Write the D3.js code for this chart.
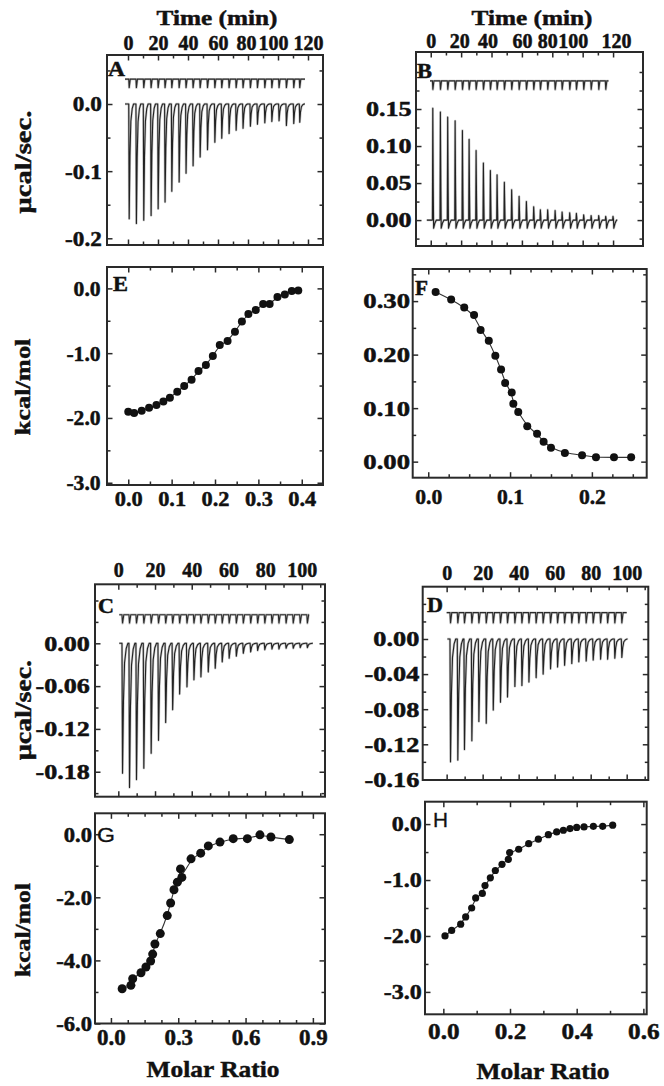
<!DOCTYPE html>
<html><head><meta charset="utf-8">
<script src="https://cdn.jsdelivr.net/npm/d3@7"></script>
<style>
body{margin:0;background:#fff;}
svg{display:block;}
</style></head><body>
<svg id="chart" width="664" height="1086"></svg>
<script>
// ================= DATA =================
// Raw ITC thermograms: injection times (min) and peak heights (µcal/sec)
const aTimes = [0.5,5.3,10.2,15.1,19.8,24.4,28.9,33.8,38.4,43.1,47.8,52.7,57.6,62.2,67.1,71.8,76.4,81.3,86.0,90.9,95.6,100.4,105.3,110.2,114.2];
const aPeaks = [-0.171,-0.178,-0.173,-0.166,-0.156,-0.146,-0.130,-0.116,-0.103,-0.092,-0.079,-0.068,-0.057,-0.051,-0.044,-0.039,-0.036,-0.033,-0.030,-0.028,-0.026,-0.025,-0.032,-0.029,-0.027];
const aRef = {level: 0.037, dip: -0.013, start: -2, end: 118};

const bTimes = [1.1,6.1,10.9,15.8,20.6,25.0,29.6,34.4,39.0,43.4,48.2,53.0,57.9,62.7,67.5,71.9,76.7,81.6,86.2,91.2,95.6,100.4,105.3,110.3,114.9,119.7];
const bPeaks = [0.151,0.146,0.139,0.134,0.121,0.109,0.094,0.077,0.067,0.061,0.051,0.041,0.032,0.025,0.018,0.014,0.014,0.013,0.011,0.010,0.009,0.007,0.006,0.006,0.005,0.005];
const bRef = {level: 0.188, dip: -0.012, start: -0.5, end: 117};

const cTimes = [2.0,5.8,9.6,13.6,17.6,21.6,25.5,29.3,33.1,37.1,40.9,44.7,48.7,52.5,56.3,60.1,64.0,67.8,71.8,75.6,79.5,83.4,87.2,91.1,95.0,98.8,102.7];
const cPeaks = [-0.182,-0.202,-0.191,-0.175,-0.154,-0.136,-0.111,-0.093,-0.071,-0.061,-0.051,-0.047,-0.040,-0.035,-0.026,-0.021,-0.018,-0.014,-0.012,-0.010,-0.009,-0.008,-0.008,-0.007,-0.007,-0.006,-0.006];
const cRef = {level: 0.040, dip: -0.012, start: 0.5, end: 104};

const dTimes = [1.85,5.9,9.6,13.7,17.6,21.7,25.6,29.6,33.5,37.6,41.5,45.4,49.4,53.3,57.4,61.3,65.2,69.2,73.1,77.2,81.1,85.2,89.1,93.1,97.0];
const dPeaks = [-0.140,-0.138,-0.126,-0.116,-0.094,-0.096,-0.081,-0.072,-0.066,-0.054,-0.053,-0.049,-0.044,-0.040,-0.034,-0.032,-0.030,-0.028,-0.026,-0.025,-0.024,-0.023,-0.023,-0.022,-0.021];
const dRef = {level: 0.030, dip: -0.012, start: 0, end: 100};

// Integrated heats (kcal/mol) vs molar ratio
const eX = [0.0,0.0135,0.031,0.048,0.065,0.081,0.096,0.113,0.129,0.146,0.162,0.179,0.195,0.211,0.229,0.246,0.262,0.277,0.294,0.311,0.326,0.344,0.361,0.377,0.392];
const eY = [-1.904,-1.925,-1.889,-1.842,-1.801,-1.745,-1.688,-1.595,-1.508,-1.41,-1.276,-1.184,-1.045,-0.875,-0.813,-0.67,-0.51,-0.397,-0.335,-0.242,-0.242,-0.134,-0.093,-0.042,-0.031];

const fX = [0.009,0.028,0.044,0.056,0.064,0.074,0.082,0.089,0.094,0.102,0.104,0.110,0.121,0.133,0.141,0.150,0.167,0.188,0.205,0.227,0.248];
const fY = [0.317,0.303,0.288,0.274,0.246,0.226,0.198,0.172,0.147,0.129,0.108,0.093,0.066,0.052,0.037,0.026,0.016,0.012,0.008,0.008,0.008];

const gX = [0.050,0.089,0.097,0.134,0.156,0.177,0.186,0.196,0.220,0.251,0.266,0.281,0.296,0.310,0.316,0.357,0.400,0.434,0.486,0.545,0.608,0.664,0.713,0.795];
const gY = [-4.90,-4.79,-4.58,-4.39,-4.21,-4.02,-3.80,-3.48,-3.15,-2.58,-2.18,-1.76,-1.52,-1.10,-1.37,-0.78,-0.60,-0.37,-0.25,-0.14,-0.14,-0.02,-0.09,-0.17];

const hX = [0.005,0.025,0.052,0.067,0.085,0.097,0.117,0.125,0.141,0.156,0.176,0.195,0.199,0.226,0.256,0.285,0.315,0.340,0.360,0.380,0.400,0.422,0.450,0.478,0.508];
const hY = [-2.00,-1.90,-1.79,-1.66,-1.50,-1.32,-1.24,-1.10,-0.96,-0.83,-0.72,-0.63,-0.51,-0.45,-0.35,-0.27,-0.19,-0.14,-0.11,-0.08,-0.06,-0.05,-0.04,-0.04,-0.02];

// Tick values
const time120Major = [0,20,40,60,80,100,120];
const time120Minor = [10,30,50,70,90,110];
const time100Major = [0,20,40,60,80,100];
const time100Minor = [10,30,50,70,90,110];
const aYMajor = [-0.2,-0.1,0.0], aYMinor = [-0.15,-0.05,0.05];
const bYMajor = [0,0.05,0.10,0.15], bYMinor = [-0.025,0.025,0.075,0.125,0.175,0.2];
const cYMajor = [-0.18,-0.12,-0.06,0], cYMinor = [-0.21,-0.15,-0.09,-0.03,0.03,0.06];
const dYMajor = [-0.16,-0.12,-0.08,-0.04,0], dYMinor = [-0.14,-0.10,-0.06,-0.02,0.02,0.04];
const eXMajor = [0,0.1,0.2,0.3,0.4], eXMinor = [0.05,0.15,0.25,0.35];
const eYMajor = [-3,-2,-1,0], eYMinor = [-2.5,-1.5,-0.5];
const fXMajor = [0,0.1,0.2], fXMinor = [0.025,0.05,0.075,0.125,0.15,0.175,0.225,0.25];
const fYMajor = [0,0.1,0.2,0.3], fYMinor = [0.05,0.15,0.25,0.35];
const gXMajor = [0,0.3,0.6,0.9], gXMinor = [0.075,0.15,0.225,0.375,0.45,0.525,0.675,0.75,0.825];
const gYMajor = [-6,-4,-2,0], gYMinor = [-5,-3,-1];
const hXMajor = [0,0.2,0.4,0.6], hXMinor = [0.1,0.3,0.5];
const hYMajor = [-3,-2,-1,0], hYMinor = [-2.5,-1.5,-0.5];

// ================= DRAWING =================
const svg = d3.select("#chart");
const FONT = "'Liberation Serif','Times New Roman',Times,serif";
const SANS = "'Liberation Sans',Arial,sans-serif";
const INK = "#2a2a2a";

function fmt(n){ return d => d.toFixed(n); }

// fit a text's horizontal scale so that a given label reaches a target width
function calib(sel, refStr, targetW){
  let w = 0;
  sel.each(function(){ if (this.textContent === refStr) w = this.getComputedTextLength(); });
  if (!w) return 1;
  return targetW / w;
}

function styleAxis(a, fs, cal, nudge){
  a.select(".domain").remove();
  a.attr("font-family", FONT).attr("font-size", fs).attr("font-weight", "bold");
  a.selectAll(".tick line").attr("stroke", INK).attr("stroke-width", 1.5);
  const txt = a.selectAll(".tick text").attr("fill", "#111")
    .attr("stroke", "#111").attr("stroke-width", 0.5);
  if (cal) {
    const sx = calib(txt, cal[0], cal[1]);
    txt.attr("transform", `scale(${sx},1)`);
    if (nudge) txt.attr("x", function(d){ return nudge[d] !== undefined ? nudge[d] / sx : null; });
  }
}

function label(x, y, str, o){
  o = o || {};
  const t = svg.append("text")
    .attr("text-anchor", o.anchor || "middle")
    .attr("font-family", o.family || FONT)
    .attr("font-weight", o.weight || "bold")
    .attr("font-size", o.fs || 21)
    .attr("fill", "#111").attr("stroke", "#111").attr("stroke-width", o.sw === undefined ? 0.45 : o.sw)
    .text(str);
  let sx = 1;
  if (o.w) sx = o.w / t.node().getComputedTextLength();
  t.attr("transform", `translate(${x},${y}) rotate(${o.rot||0}) scale(${sx},1)`);
}

function panel(c){
  const [x0,y0,x1,y1] = c.box;
  const x = d3.scaleLinear().domain(c.xd).range([x0,x1]);
  const y = d3.scaleLinear().domain(c.yd).range([y1,y0]);
  const g = svg.append("g");
  const MAJ = 5.5, MIN = 3.5;
  // y axes
  const al = g.append("g").attr("transform", `translate(${x0},0)`)
    .call(d3.axisLeft(y).tickValues(c.yMajor).tickSizeInner(-MAJ).tickSizeOuter(0).tickPadding(c.yPad).tickFormat(c.yFmt));
  styleAxis(al, 21.5, c.yCal);
  const alm = g.append("g").attr("transform", `translate(${x0},0)`)
    .call(d3.axisLeft(y).tickValues(c.yMinor).tickSizeInner(-MIN).tickSizeOuter(0).tickFormat(""));
  styleAxis(alm, 21);
  const ar = g.append("g").attr("transform", `translate(${x1},0)`)
    .call(d3.axisRight(y).tickValues(c.yMajor).tickSizeInner(-MAJ).tickSizeOuter(0).tickFormat(""));
  styleAxis(ar, 21);
  const arm = g.append("g").attr("transform", `translate(${x1},0)`)
    .call(d3.axisRight(y).tickValues(c.yMinor).tickSizeInner(-MIN).tickSizeOuter(0).tickFormat(""));
  styleAxis(arm, 21);
  // x axes
  const topFmt = c.xOnTop ? c.xFmt : "";
  const botFmt = c.xOnTop ? "" : c.xFmt;
  const at = g.append("g").attr("transform", `translate(0,${y0})`)
    .call(d3.axisTop(x).tickValues(c.xMajor).tickSizeInner(-MAJ).tickSizeOuter(0).tickPadding(c.xPad).tickFormat(topFmt));
  styleAxis(at, c.xFs, c.xOnTop ? c.xCal : null, c.nudge);
  const atm = g.append("g").attr("transform", `translate(0,${y0})`)
    .call(d3.axisTop(x).tickValues(c.xMinor).tickSizeInner(-MIN).tickSizeOuter(0).tickFormat(""));
  styleAxis(atm, 21);
  const ab = g.append("g").attr("transform", `translate(0,${y1})`)
    .call(d3.axisBottom(x).tickValues(c.xMajor).tickSizeInner(-MAJ).tickSizeOuter(0).tickPadding(c.xPad).tickFormat(botFmt));
  styleAxis(ab, c.xFs, c.xOnTop ? null : c.xCal, c.nudge);
  const abm = g.append("g").attr("transform", `translate(0,${y1})`)
    .call(d3.axisBottom(x).tickValues(c.xMinor).tickSizeInner(-MIN).tickSizeOuter(0).tickFormat(""));
  styleAxis(abm, 21);
  // frame
  g.append("rect").attr("x", x0).attr("y", y0).attr("width", x1-x0).attr("height", y1-y0)
    .attr("fill", "none").attr("stroke", INK).attr("stroke-width", 2);
  return {g, x, y};
}

// --- raw thermogram helpers ---
function spikeTrace(times, peaks, tStart, tEnd, under){
  const pts = [[tStart, 0]];
  times.forEach((t, i) => {
    const h = peaks[i];
    if (under) {
      pts.push([t,0],[t+0.25,h],[t+0.55,h*0.3],[t+0.8,under],[t+1.6,under*0.4],[t+2.6,0]);
    } else {
      pts.push([t,0],[t+0.3,h],[t+0.8,h*0.45],[t+1.4,h*0.15],[t+2.3,h*0.04],[t+3.2,0]);
    }
  });
  pts.push([tEnd, 0]);
  return pts;
}
function refTrace(times, ref){
  const pts = [[ref.start, ref.level]];
  times.forEach(t => {
    if (t + 1 < ref.end) pts.push([t, ref.level],[t+0.3, ref.level+ref.dip],[t+1.0, ref.level]);
  });
  pts.push([ref.end, ref.level]);
  return pts;
}
function drawRaw(p, times, peaks, ref, lowStart, lowEnd, under){
  const line = d3.line().x(d => p.x(d[0])).y(d => p.y(d[1]));
  const refPts = refTrace(times, ref), lowPts = spikeTrace(times, peaks, lowStart, lowEnd, under);
  // soft grey halo, as in the scanned original
  [refPts, lowPts].forEach(pts => p.g.append("path").datum(pts).attr("d", line)
    .attr("fill","none").attr("stroke","#999").attr("stroke-width",2.4).attr("stroke-opacity",0.55)
    .attr("stroke-linejoin","round"));
  p.g.append("path").datum(refPts).attr("d", line)
    .attr("fill","none").attr("stroke","#2a2a2a").attr("stroke-width",1.1);
  p.g.append("path").datum(lowPts).attr("d", line)
    .attr("fill","none").attr("stroke","#222").attr("stroke-width",1.1).attr("stroke-linejoin","round");
}
function drawHeats(p, xs, ys, r){
  const pts = xs.map((v,i) => [v, ys[i]]);
  const line = d3.line().x(d => p.x(d[0])).y(d => p.y(d[1])).curve(d3.curveBasis);
  p.g.append("path").datum(pts).attr("d", line)
    .attr("fill","none").attr("stroke","#333").attr("stroke-width",1.1);
  p.g.selectAll("circle.pt").data(pts).join("circle").attr("class","pt")
    .attr("cx", d => p.x(d[0])).attr("cy", d => p.y(d[1])).attr("r", r).attr("fill","#111");
}

// ---- Panel A ----
const pA = panel({box:[107,55,323,245], xd:[-14,130], yd:[-0.21,0.073],
  xMajor:time120Major, xMinor:time120Minor, yMajor:aYMajor, yMinor:aYMinor,
  xFmt:fmt(0), yFmt:fmt(1), xOnTop:true, xPad:5, yPad:4.8, xFs:20.5,
  yCal:["0.0",29], xCal:["120",30], nudge:{80:-2, 100:-5}});
drawRaw(pA, aTimes, aPeaks, aRef, -2, 118, 0);

// ---- Panel B ----
const pB = panel({box:[416,52,643,246], xd:[-9.7,139.7], yd:[-0.035,0.227],
  xMajor:time120Major, xMinor:time120Minor, yMajor:bYMajor, yMinor:bYMinor,
  xFmt:fmt(0), yFmt:fmt(2), xOnTop:true, xPad:4, yPad:3.6, xFs:20.5,
  yCal:["0.15",45.7], xCal:["120",30], nudge:{20:-2, 40:-4, 80:-5, 100:-10, 120:3}});
drawRaw(pB, bTimes, bPeaks, bRef, -2.6, 122.8, -0.011);

// ---- Panel E ----
const pE = panel({box:[107,267,323,485], xd:[-0.049,0.449], yd:[-3.035,0.33],
  xMajor:eXMajor, xMinor:eXMinor, yMajor:eYMajor, yMinor:eYMinor,
  xFmt:fmt(1), yFmt:fmt(1), xOnTop:false, xPad:5, yPad:6.4, xFs:22,
  yCal:["0.0",27], xCal:["0.2",28]});
drawHeats(pE, eX, eY, 4);

// ---- Panel F ----
const pF = panel({box:[412.7,269,646.7,477.7], xd:[-0.019,0.267], yd:[-0.030,0.36],
  xMajor:fXMajor, xMinor:fXMinor, yMajor:fYMajor, yMinor:fYMinor,
  xFmt:fmt(1), yFmt:fmt(2), xOnTop:false, xPad:11, yPad:2.2, xFs:22,
  yCal:["0.30",46.7], xCal:["0.2",27]});
drawHeats(pF, fX, fY, 4);

// ---- Panel C ----
const pC = panel({box:[95,584.3,325,796.7], xd:[-12.7,112.6], yd:[-0.215,0.0827],
  xMajor:time100Major, xMinor:time100Minor, yMajor:cYMajor, yMinor:cYMinor,
  xFmt:fmt(0), yFmt:fmt(2), xOnTop:true, xPad:7, yPad:4.2, xFs:20.5,
  yCal:["0.00",45.7], xCal:["100",30]});
drawRaw(pC, cTimes, cPeaks, cRef, 0.5, 106, 0);

// ---- Panel D ----
const pD = panel({box:[422.7,586.7,648.3,780], xd:[-13.3,112], yd:[-0.1607,0.0596],
  xMajor:time100Major, xMinor:time100Minor, yMajor:dYMajor, yMinor:dYMinor,
  xFmt:fmt(0), yFmt:fmt(2), xOnTop:true, xPad:6.5, yPad:2.8, xFs:20.5,
  yCal:["0.00",46], xCal:["100",30]});
drawRaw(pD, dTimes, dPeaks, dRef, 0.4, 100, 0);

// ---- Panel G ----
const pG = panel({box:[95,813.3,325,1023.5], xd:[-0.071,0.954], yd:[-6.0,0.663],
  xMajor:gXMajor, xMinor:gXMinor, yMajor:gYMajor, yMinor:gYMinor,
  xFmt:fmt(1), yFmt:fmt(1), xOnTop:false, xPad:5, yPad:2.9, xFs:23,
  yCal:["0.0",28.3], xCal:["0.3",28.7]});
drawHeats(pG, gX, gY, 4.5);

// ---- Panel H ----
const pH = panel({box:[425,801.7,646.7,1014.3], xd:[-0.055,0.61], yd:[-3.40,0.40],
  xMajor:hXMajor, xMinor:hXMinor, yMajor:hYMajor, yMinor:hYMinor,
  xFmt:fmt(1), yFmt:fmt(1), xOnTop:false, xPad:7.5, yPad:2.9, xFs:24,
  yCal:["0.0",30], xCal:["0.4",31.5]});
drawHeats(pH, hX, hY, 3.6);

// ---- Titles & axis labels ----
label(217, 25, "Time (min)", {fs:21, w:121});
label(532, 25, "Time (min)", {fs:21, w:121});
label(213, 1077, "Molar Ratio", {fs:24, w:133});
label(543, 1079, "Molar Ratio", {fs:24, w:133});
label(31, 162, "μcal/sec.", {fs:23, w:103, rot:-90});
label(31, 710, "μcal/sec.", {fs:23, w:100, rot:-90});
label(30, 387, "kcal/mol", {fs:22, w:97, rot:-90});
label(30, 930, "kcal/mol", {fs:22, w:94, rot:-90});

// ---- Panel letters ----
label(108, 76, "A", {anchor:"start", fs:20, w:17});
label(417, 78, "B", {anchor:"start", fs:20, w:15});
label(113, 291, "E", {anchor:"start", fs:20, w:15});
label(415, 295, "F", {anchor:"start", fs:20, w:13});
label(98, 613, "C", {anchor:"start", fs:20, w:16});
label(427, 612, "D", {anchor:"start", fs:20, w:16});
label(97, 842, "G", {anchor:"start", fs:20, w:18, family:SANS, weight:"normal", sw:0.3});
label(433, 827, "H", {anchor:"start", fs:20, w:15, family:SANS, weight:"normal", sw:0.3});
</script>
</body></html>
